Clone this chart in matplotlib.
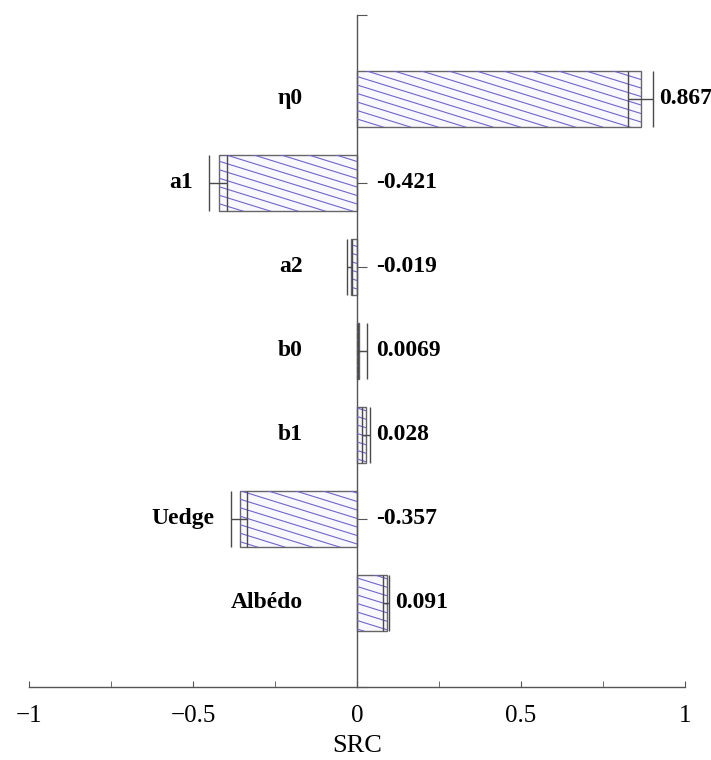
import numpy as np
import matplotlib
matplotlib.use('Agg')
import matplotlib.pyplot as plt
from matplotlib.collections import LineCollection

plt.rcParams['font.family'] = ['Liberation Serif', 'DejaVu Serif']

# data
params = ['η0', 'a1', 'a2', 'b0', 'b1', 'Uedge', 'Albédo']
src = [0.867, -0.421, -0.019, 0.0069, 0.028, -0.357, 0.091]
ci_low = [0.826, -0.451, -0.030, 0.002, 0.016, -0.384, 0.079]
ci_high = [0.902, -0.396, -0.016, 0.030, 0.040, -0.335, 0.098]
value_text = ['0.867', '-0.421', '-0.019', '0.0069', '0.028', '-0.357', '0.091']
xticks = [-1, -0.5, 0, 0.5, 1]
xtick_labels = ['\u22121', '\u22120.5', '0', '0.5', '1']

fig = plt.figure(figsize=(7.11, 7.6), dpi=100)
ax = fig.add_axes([0.0408, 0.0961, 0.9226, 0.8842])

ypos = np.arange(len(params))
bars = ax.barh(ypos, src, height=0.67, color='#faf8ff', edgecolor='#666666', lw=1.0, zorder=2)

ax.set_xlim(-1, 1)
ax.set_ylim(7, -1)

# shallow diagonal hatch lines, clipped to each bar
k = 0.31 * 328 / 84
step = 8.5 / 84
offs = np.arange(-3, 10, step)
segs = [[(-1, c - k), (1, c + k)] for c in offs]
for b in bars:
    lc = LineCollection(segs, colors='#6f66c8', lw=0.8, zorder=3)
    ax.add_collection(lc)
    lc.set_clip_path(b)

# error bars
for i in range(len(params)):
    ax.errorbar(src[i], ypos[i], xerr=[[src[i] - ci_low[i]], [ci_high[i] - src[i]]],
                fmt='none', ecolor='#4a4a4a', elinewidth=1.0, capsize=20, capthick=1.0, zorder=4)

# labels
for i in range(len(params)):
    lx = min(-0.165, ci_low[i] - 0.05)
    ax.text(lx, ypos[i], params[i], ha='right', va='center', fontsize=17, fontweight='bold')
    vx = max(0.058, ci_high[i] + 0.018)
    ax.text(vx, ypos[i], value_text[i], ha='left', va='center', fontsize=17, fontweight='bold')

ax.spines['left'].set_position(('data', 0))
ax.spines['right'].set_visible(False)
ax.spines['top'].set_visible(False)
for s in ['left', 'bottom']:
    ax.spines[s].set_color('#555555')
    ax.spines[s].set_linewidth(1.0)

ax.set_yticks(np.arange(-1, 8))
ax.set_yticklabels([])
ax.tick_params(axis='y', direction='in', length=7.5, color='#555555')

ax.set_xticks(xticks)
ax.set_xticklabels(xtick_labels, fontsize=18)
ax.set_xticks(np.arange(-1, 1.01, 0.25), minor=True)
ax.tick_params(axis='x', which='both', direction='in', length=4, color='#555555', pad=13)
ax.set_xlabel('SRC', fontsize=19, labelpad=6)

fig.savefig('out.png', dpi=100)
